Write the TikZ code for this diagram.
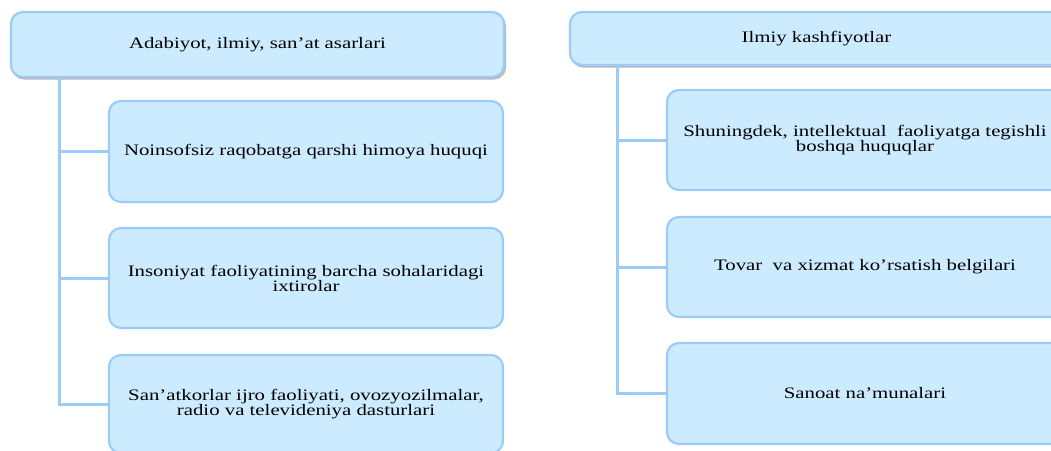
\documentclass[tikz,border=0pt]{standalone}
\usepackage{fontspec}
\setmainfont{Liberation Serif}[FakeStretch=1.3]
\usetikzlibrary{calc}
\definecolor{boxfill}{HTML}{CCEBFF}
\definecolor{boxline}{HTML}{9CCBF7}
\tikzset{
  card/.style={draw=boxline, fill=boxfill, line width=2.2pt, rounded corners=12pt,
    align=center, font=\fontsize{16}{15}\selectfont, inner sep=0pt},
  headcard/.style={card},
  conn/.style={draw=boxline, line width=3pt},
  shade/.style={fill=black!28, rounded corners=12pt, draw=none}
}
\begin{document}
\begin{tikzpicture}[x=1pt,y=-1pt]
\useasboundingbox (0,0) rectangle (1051,450);
\clip (0,0) rectangle (1051,450);
% shadows
\fill[shade] (12,14) rectangle (506,79.5);
\fill[shade] (571,14) rectangle (1064,67.5);
% top boxes
\node[headcard, minimum width=493pt, minimum height=65pt] (lt) at (257.5,44.5) {Adabiyot, ilmiy, san’at asarlari};
\node[headcard, minimum width=493pt, minimum height=53pt] (rt) at (816.5,38.5) {Ilmiy kashfiyotlar};
% left children
\node[card, minimum width=394pt, minimum height=101pt] (l1) at (306,151.5) {Noinsofsiz raqobatga qarshi himoya huquqi};
\node[card, minimum width=394pt, minimum height=100pt] (l2) at (306,278) {Insoniyat faoliyatining barcha sohalaridagi\\ixtirolar};
\node[card, minimum width=394pt, minimum height=98pt] (l3) at (306,404) {San’atkorlar ijro faoliyati, ovozyozilmalar,\\radio va televideniya dasturlari};
% right children
\node[card, minimum width=396pt, minimum height=100pt] (r1) at (865,140) {Shuningdek, intellektual\ \ faoliyatga tegishli\\boshqa huquqlar};
\node[card, minimum width=396pt, minimum height=100pt] (r2) at (865,267) {Tovar\ \ va xizmat ko’rsatish belgilari};
\node[card, minimum width=396pt, minimum height=101pt] (r3) at (865,393.5) {Sanoat na’munalari};
% connectors
\coordinate (la) at ($(lt.south west)+(50,0)$);
\coordinate (ra) at ($(rt.south west)+(49,0)$);
\draw[conn] (la) |- (l3.west);
\draw[conn] (la |- l1.west) -- (l1.west);
\draw[conn] (la |- l2.west) -- (l2.west);
\draw[conn] (ra) |- (r3.west);
\draw[conn] (ra |- r1.west) -- (r1.west);
\draw[conn] (ra |- r2.west) -- (r2.west);
\end{tikzpicture}
\end{document}
